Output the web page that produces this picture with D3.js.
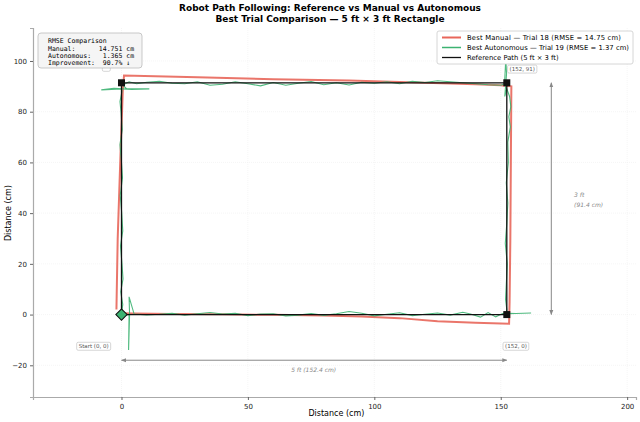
<!DOCTYPE html>
<html lang="en">
<head>
<meta charset="UTF-8">
<script src="https://d3js.org/d3.v7.min.js"></script>
<style>
  body { margin: 0; background: #fff; }
  text { font-family: "DejaVu Sans", sans-serif; }
</style>
</head>
<body>
<div id="chart"></div>
<script>
// reference rectangle (cm)
const refPath = [[0,0],[0,91.4],[152.4,91.4],[152.4,0],[0,0]];
const corners = [[0,91.4],[152.4,91.4],[152.4,0]];
const start = [0,0];

// best manual run, trial 18
const manualPath = [[-2,2],[-1.5,30],[-0.5,60],[0.5,88],[1,94.3],[30,93.6],[60,92.8],[90,92.3],[120,91.4],[140,90.8],[150,90.4],[154.2,90],[154,60],[153.8,30],[153.5,5],[153.3,-3.6],[140,-3.2],[125,-2.6],[110,-1.4],[95,-0.8],[80,-0.4],[60,-0.1],[40,0.1],[20,0.2],[5,0.4],[0,0.5]];

// best autonomous run, trial 19
const autoPath = [[0,0],[0.5,4],[-0.3,9],[0.6,14],[0.2,20],[-0.4,27],[0.5,33],[0.1,40],[-0.5,47],[0.4,54],[0,60],[-0.6,67],[0.3,73],[-0.2,80],[-0.6,84],[0.2,88],[0,89],
  [-8,88.6],[-3,89.2],[4,88.8],[11,89],[2,89.1],[0.5,90.5],[3,91.8],[6,91],[10,91.6],[15,92],[20,91.2],[25,91],[30,91.8],[35,90.4],[40,90.8],[45,91.8],[50,91],[55,90.2],[60,91.5],[65,90.4],[70,91.2],[75,91.9],[80,90.6],[85,91.4],[90,90.5],[95,91.6],[100,91.2],[105,91.8],[110,91],[115,92],[120,91.5],[125,92.2],[130,91.8],[135,91.4],[140,91],[145,90.6],[150,90.4],[151.5,91],
  [152,101],[152.3,95],[151.6,86],[152.4,89],[153.5,86],[154,82],[153.2,78],[153.8,74],[152.8,68],[153,60],[152.2,52],[152.8,44],[152.4,36],[151.8,28],[152.6,20],[152.2,12],[151.9,6],[152.4,2],[152.4,0.3],
  [162,0.6],[156,0.4],[151,0.5],[148,-0.9],[145,0.8],[142,-1],[138,0.2],[135,0.9],[130,-0.2],[125,0.6],[120,0.1],[115,-0.4],[110,0.7],[105,0.1],[100,-0.5],[95,0.5],[90,1.2],[85,0.3],[80,-0.3],[75,0.4],[70,-0.2],[65,-0.5],[60,0.3],[55,0.2],[50,-0.4],[45,0.5],[40,0.2],[35,0.8],[30,0.3],[25,-0.2],[20,0.5],[15,0.1],[10,-0.1],[5,0.2],
  [3,7],[3.2,0],[2.8,-14],[3,0],[0,0]];

const xTicks = [0,50,100,150,200];
const yTicks = [-20,0,20,40,60,80,100];

const W = 640, H = 422;
const m = {top: 28, right: 4, bottom: 25, left: 33};
const svg = d3.select("#chart").append("svg").attr("width", W).attr("height", H);

const x = d3.scaleLinear().domain([-35, 203.5]).range([m.left, W - m.right]);
const y = d3.scaleLinear().domain([-32.5, 113]).range([H - m.bottom, m.top]);

// title
svg.append("text").attr("x", 330).attr("y", 11).attr("text-anchor", "middle")
  .style("font-size", "9px").style("font-weight", "bold")
  .text("Robot Path Following: Reference vs Manual vs Autonomous");
svg.append("text").attr("x", 330).attr("y", 22).attr("text-anchor", "middle")
  .style("font-size", "9px").style("font-weight", "bold")
  .text("Best Trial Comparison \u2014 5 ft \u00d7 3 ft Rectangle");

// grid
svg.append("g").selectAll("line").data(xTicks).join("line")
  .attr("x1", d => x(d)).attr("x2", d => x(d)).attr("y1", m.top).attr("y2", H - m.bottom)
  .attr("stroke", "#eee").attr("stroke-dasharray", "1,1").attr("stroke-width", 0.6);
svg.append("g").selectAll("line").data(yTicks).join("line")
  .attr("y1", d => y(d)).attr("y2", d => y(d)).attr("x1", m.left).attr("x2", W - m.right)
  .attr("stroke", "#eee").attr("stroke-dasharray", "1,1").attr("stroke-width", 0.6);

// axes
const xa = svg.append("g").attr("transform", `translate(0,${H - m.bottom})`)
  .call(d3.axisBottom(x).tickValues(xTicks).tickSize(3));
const ya = svg.append("g").attr("transform", `translate(${m.left},0)`)
  .call(d3.axisLeft(y).tickValues(yTicks).tickSize(3));
[xa, ya].forEach(a => {
  a.selectAll(".domain").attr("stroke", "#aaa").attr("stroke-width", 1.2);
  a.selectAll(".tick line").attr("stroke", "#666");
  a.selectAll("text").style("font-size", "7px").attr("fill", "#222");
});
xa.selectAll("text").attr("dy", "0.9em");
svg.append("text").attr("x", x(85)).attr("y", 416).attr("text-anchor", "middle")
  .style("font-size", "8px").text("Distance (cm)");
svg.append("text").attr("transform", `translate(11,${y(40)}) rotate(-90)`).attr("text-anchor", "middle")
  .style("font-size", "8px").text("Distance (cm)");

const line = d3.line().x(d => x(d[0])).y(d => y(d[1]));

svg.append("path").datum(manualPath).attr("d", line).attr("fill", "none")
  .attr("stroke", "#e8665a").attr("stroke-width", 2).attr("opacity", 0.9);
svg.append("path").datum(autoPath).attr("d", line).attr("fill", "none")
  .attr("stroke", "#3cb371").attr("stroke-width", 1.1).attr("opacity", 0.9);
svg.append("path").datum(refPath).attr("d", line).attr("fill", "none")
  .attr("stroke", "#111").attr("stroke-width", 1.3);

svg.append("g").selectAll("rect").data(corners).join("rect")
  .attr("x", d => x(d[0]) - 3.5).attr("y", d => y(d[1]) - 3.5)
  .attr("width", 7).attr("height", 7).attr("fill", "#111");
svg.append("rect").attr("x", x(start[0]) - 4).attr("y", y(start[1]) - 4)
  .attr("width", 8).attr("height", 8).attr("fill", "#3cb371").attr("stroke", "#111")
  .attr("stroke-width", 1).attr("transform", `rotate(45,${x(start[0])},${y(start[1])})`);

// corner labels
const labels = [
  {t: "Start (0, 0)", p: [-11, -12.5]},
  {t: "(152, 0)", p: [156, -12.5]},
  {t: "(152, 91)", p: [158.5, 96.8]},
  {t: "", p: [-6, 97.5]}
];
labels.forEach(l => {
  const g = svg.append("g");
  const tx = g.append("text").attr("x", x(l.p[0])).attr("y", y(l.p[1])).attr("text-anchor", "middle")
    .attr("dy", "0.35em").style("font-size", "5.5px").attr("fill", "#555").text(l.t);
  const w = l.t ? tx.node().getComputedTextLength() + 4 : 8;
  g.insert("rect", "text").attr("x", x(l.p[0]) - w / 2).attr("y", y(l.p[1]) - 4)
    .attr("width", w).attr("height", 8).attr("rx", 1.5).attr("fill", "#fff").attr("stroke", "#bbb").attr("stroke-width", 0.6);
});

// dimension arrows
svg.append("defs").append("marker").attr("id", "ah").attr("viewBox", "0 0 10 10").attr("refX", 9).attr("refY", 5)
  .attr("markerWidth", 5).attr("markerHeight", 5).attr("orient", "auto-start-reverse")
  .append("path").attr("d", "M0,1L10,5L0,9z").attr("fill", "#888");
svg.append("line").attr("x1", x(0)).attr("x2", x(152.4)).attr("y1", y(-18)).attr("y2", y(-18))
  .attr("stroke", "#888").attr("marker-start", "url(#ah)").attr("marker-end", "url(#ah)");
svg.append("text").attr("x", x(76)).attr("y", y(-22.5)).attr("text-anchor", "middle")
  .style("font-size", "6px").style("font-style", "italic").attr("fill", "#888").text("5 ft  (152.4 cm)");
svg.append("line").attr("x1", x(170)).attr("x2", x(170)).attr("y1", y(0)).attr("y2", y(91.4))
  .attr("stroke", "#888").attr("marker-start", "url(#ah)").attr("marker-end", "url(#ah)");
svg.append("text").attr("x", x(179)).attr("y", y(46.5)).style("font-size", "6px").style("font-style", "italic")
  .attr("fill", "#888").text("3 ft");
svg.append("text").attr("x", x(179)).attr("y", y(42.5)).style("font-size", "6px").style("font-style", "italic")
  .attr("fill", "#888").text("(91.4 cm)");

// legend
const lg = svg.append("g").attr("transform", "translate(437,31)");
lg.append("rect").attr("width", 196).attr("height", 33).attr("rx", 2).attr("fill", "#fff")
  .attr("stroke", "#ccc").attr("stroke-width", 0.8);
const legendItems = [
  {t: "Best Manual \u2014 Trial 18  (RMSE = 14.75 cm)", c: "#e8665a", w: 2},
  {t: "Best Autonomous \u2014 Trial 19  (RMSE = 1.37 cm)", c: "#3cb371", w: 1.5},
  {t: "Reference Path (5 ft \u00d7 3 ft)", c: "#111", w: 1.3}
];
legendItems.forEach((d, i) => {
  lg.append("line").attr("x1", 5).attr("x2", 24).attr("y1", 6.5 + i * 10).attr("y2", 6.5 + i * 10)
    .attr("stroke", d.c).attr("stroke-width", d.w);
  lg.append("text").attr("x", 30).attr("y", 6.5 + i * 10).attr("dy", "0.35em")
    .style("font-size", "6.8px").attr("textLength", i < 2 ? (i ? 162 : 154) : null).text(d.t);
});

// RMSE box
const rb = svg.append("g").attr("transform", "translate(38,33)");
rb.append("rect").attr("width", 104).attr("height", 35).attr("rx", 3).attr("fill", "#f5f5f5")
  .attr("stroke", "#bbb").attr("stroke-width", 0.8);
["RMSE Comparison", "Manual:      14.751 cm", "Autonomous:   1.365 cm", "Improvement:  90.7% \u2193"]
  .forEach((t, i) => rb.append("text").attr("x", 10).attr("y", 8 + i * 7.3).attr("dy", "0.35em")
    .style("font-family", "DejaVu Sans Mono, monospace").style("font-size", "6.5px")
    .attr("xml:space", "preserve").style("white-space", "pre").text(t));
</script>
</body>
</html>
